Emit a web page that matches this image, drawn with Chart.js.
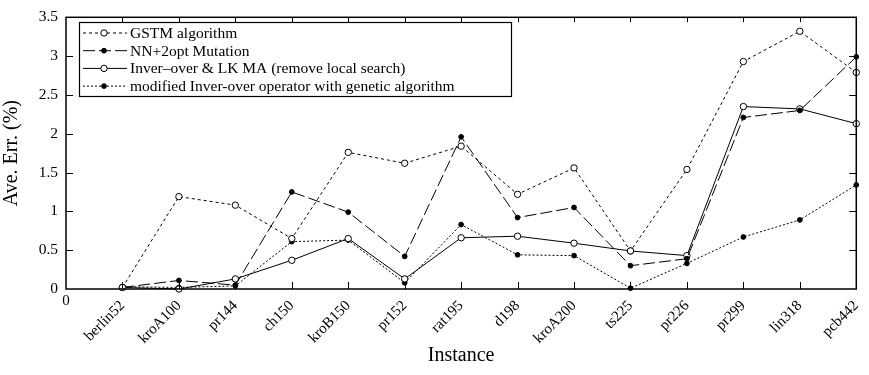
<!DOCTYPE html>
<html>
<head>
<meta charset="utf-8">
<script src="https://cdn.jsdelivr.net/npm/chart.js@4.4.1/dist/chart.umd.min.js"></script>
<style>
  html, body { margin: 0; padding: 0; background: #fff; }
  #wrap { width: 869px; height: 375px; position: relative; }
</style>
</head>
<body>
<div id="wrap"><canvas id="chart"></canvas></div>
<script>
const instances = ['berlin52', 'kroA100', 'pr144', 'ch150', 'kroB150', 'pr152', 'rat195',
  'd198', 'kroA200', 'ts225', 'pr226', 'pr299', 'lin318', 'pcb442'];
const yTicks = [0, 0.5, 1, 1.5, 2, 2.5, 3, 3.5];

const gstm     = [0.02, 1.19, 1.08, 0.65, 1.76, 1.62, 1.84, 1.22, 1.56, 0.49, 1.54, 2.93, 3.32, 2.79];
const nn2opt   = [0.02, 0.11, 0.05, 1.25, 0.99, 0.42, 1.96, 0.92, 1.05, 0.30, 0.39, 2.21, 2.30, 2.99];
const inverLK  = [0.02, 0.00, 0.13, 0.37, 0.65, 0.13, 0.66, 0.68, 0.59, 0.49, 0.43, 2.35, 2.32, 2.13];
const modified = [0.03, 0.02, 0.04, 0.61, 0.63, 0.08, 0.83, 0.44, 0.43, 0.01, 0.33, 0.67, 0.89, 1.34];

const seriesNames = [
  'GSTM algorithm',
  'NN+2opt Mutation',
  'Inver\u2013over & LK MA (remove local search)',
  'modified Inver-over operator with genetic algorithm'
];

const FONT = '"Liberation Serif", "DejaVu Serif", serif';

function toPoints(arr) {
  return arr.map((v, i) => ({ x: i + 1, y: v }));
}

function makeSet(label, values, dash, open) {
  return {
    label: label,
    data: toPoints(values),
    borderColor: '#000',
    borderWidth: 1,
    borderDash: dash,
    pointRadius: open ? 3.2 : 2.4,
    pointBorderWidth: 1,
    pointBorderColor: '#000',
    pointBackgroundColor: open ? '#fff' : '#000',
    pointStyle: 'circle',
    fill: false,
    tension: 0
  };
}

// frame, inward ticks, the lone "0" and the boxed legend
const framePlugin = {
  id: 'frame',
  afterDraw(chart) {
    const ctx = chart.ctx;
    const a = chart.chartArea;
    const xs = chart.scales.x, ys = chart.scales.y;
    ctx.save();
    ctx.strokeStyle = '#000';
    ctx.lineWidth = 1.5;
    ctx.strokeRect(a.left, a.top, a.right - a.left, a.bottom - a.top);
    ctx.lineWidth = 1;
    ctx.beginPath();
    for (let i = 1; i < instances.length; i++) {
      const px = Math.round(xs.getPixelForValue(i)) + 0.5;
      ctx.moveTo(px, a.bottom); ctx.lineTo(px, a.bottom - 7);
      ctx.moveTo(px, a.top); ctx.lineTo(px, a.top + 5);
    }
    yTicks.slice(1, -1).forEach(v => {
      const py = Math.round(ys.getPixelForValue(v)) + 0.5;
      ctx.moveTo(a.left, py); ctx.lineTo(a.left + 7, py);
      ctx.moveTo(a.right, py); ctx.lineTo(a.right - 7, py);
    });
    ctx.stroke();

    ctx.fillStyle = '#000';
    ctx.font = '15px ' + FONT;
    ctx.textAlign = 'center';
    ctx.textBaseline = 'top';
    ctx.fillText('0', xs.getPixelForValue(0), a.bottom + 5);

    // legend box
    const bx = 79, by = 22, bw = 432, bh = 74;
    ctx.fillStyle = '#fff';
    ctx.fillRect(bx, by, bw, bh);
    ctx.lineWidth = 1.2;
    ctx.strokeRect(bx + 0.5, by + 0.5, bw, bh);
    ctx.font = '15.5px ' + FONT;
    ctx.textAlign = 'left';
    ctx.textBaseline = 'middle';
    chart.data.datasets.forEach((ds, i) => {
      const y = by + 11 + i * 17.7;
      ctx.strokeStyle = '#000';
      ctx.lineWidth = 1;
      ctx.setLineDash(ds.borderDash);
      ctx.beginPath();
      ctx.moveTo(bx + 4, y); ctx.lineTo(bx + 48, y);
      ctx.stroke();
      ctx.setLineDash([]);
      ctx.beginPath();
      ctx.arc(bx + 25, y, ds.pointRadius, 0, Math.PI * 2);
      ctx.fillStyle = ds.pointBackgroundColor;
      ctx.fill();
      ctx.stroke();
      ctx.fillStyle = '#000';
      ctx.fillText(ds.label, bx + 51, y + 1);
    });
    ctx.restore();
  }
};

new Chart(document.getElementById('chart'), {
  type: 'line',
  data: {
    datasets: [
      makeSet(seriesNames[0], gstm, [3, 3], true),
      makeSet(seriesNames[1], nn2opt, [12, 4], false),
      makeSet(seriesNames[2], inverLK, [], true),
      makeSet(seriesNames[3], modified, [2, 2], false)
    ]
  },
  options: {
    responsive: true,
    maintainAspectRatio: false,
    animation: false,
    clip: false,
    layout: { padding: { left: 0, right: 11, top: 12, bottom: 0 } },
    plugins: { legend: { display: false }, tooltip: { enabled: false } },
    scales: {
      x: {
        type: 'linear',
        min: 0,
        max: instances.length,
        afterFit(scale) { scale.height = 86; },
        afterBuildTicks(scale) {
          scale.ticks = instances.map((n, i) => ({ value: i + 1 }));
        },
        ticks: {
          autoSkip: false,
          minRotation: 45,
          maxRotation: 45,
          padding: 0,
          color: '#000',
          font: { family: FONT, size: 15 },
          callback: (v) => instances[v - 1] || ''
        },
        grid: { display: false },
        border: { display: false },
        title: {
          display: true,
          text: 'Instance',
          color: '#000',
          font: { family: FONT, size: 20 },
          padding: { top: 0, bottom: 7 }
        }
      },
      y: {
        min: 0,
        max: 3.5,
        afterFit(scale) { scale.width = 66; },
        afterBuildTicks(scale) {
          scale.ticks = yTicks.map(v => ({ value: v }));
        },
        ticks: {
          padding: 8,
          color: '#000',
          font: { family: FONT, size: 15.5 },
          callback: (v) => String(v)
        },
        grid: { display: false, drawTicks: false },
        border: { display: false },
        title: {
          display: true,
          text: 'Ave. Err. (%)',
          color: '#000',
          font: { family: FONT, size: 20 },
          padding: { top: 0, bottom: 0 }
        }
      }
    }
  },
  plugins: [framePlugin]
});
</script>
</body>
</html>
